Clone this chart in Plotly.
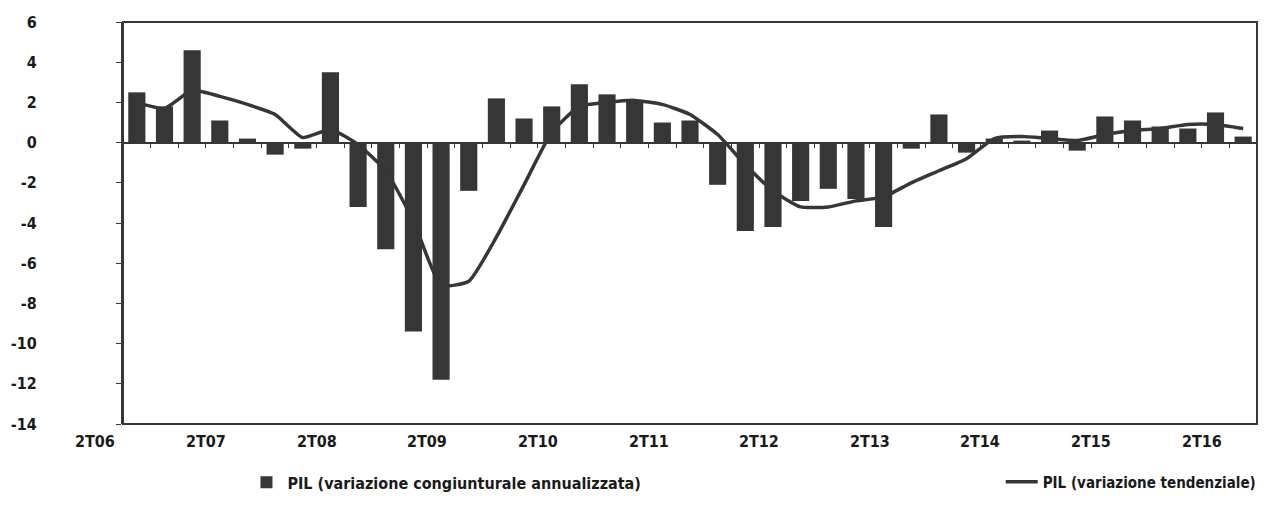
import plotly.graph_objects as go

# quarters 3T06 .. 3T16
quarters = [f"{q}T{y:02d}" for y in range(6, 17) for q in range(1, 5)][2:43]

pil_congiunturale = [2.5, 1.8, 4.6, 1.1, 0.2, -0.6, -0.3, 3.5, -3.2, -5.3,
                     -9.4, -11.8, -2.4, 2.2, 1.2, 1.8, 2.9, 2.4, 2.1, 1.0,
                     1.1, -2.1, -4.4, -4.2, -2.9, -2.3, -2.8, -4.2, -0.3, 1.4,
                     -0.5, 0.2, 0.1, 0.6, -0.4, 1.3, 1.1, 0.8, 0.7, 1.5, 0.3]

pil_tendenziale = [2.0, 1.7, 2.6, 2.3, 1.9, 1.4, 0.25, 0.65, -0.1, -1.4,
                   -3.9, -7.1, -6.9, -4.7, -2.1, 0.5, 1.8, 2.0, 2.1, 1.9,
                   1.4, 0.4, -1.1, -2.4, -3.2, -3.2, -2.9, -2.7, -2.0, -1.4,
                   -0.8, 0.2, 0.3, 0.2, 0.1, 0.4, 0.6, 0.7, 0.9, 0.9, 0.7]

tick_labels = ['2T06', '2T07', '2T08', '2T09', '2T10', '2T11',
               '2T12', '2T13', '2T14', '2T15', '2T16']

y_ticks = [-14, -12, -10, -8, -6, -4, -2, 0, 2, 4, 6]

DARK = '#363636'
TXT = '#1a1a1a'
FONT = 'DejaVu Sans Condensed, Liberation Sans Narrow, Liberation Sans, Arial'

n = len(quarters)
x = list(range(n))

fig = go.Figure()

fig.add_trace(
    go.Bar(
        x=x,
        y=pil_congiunturale,
        name='PIL (variazione congiunturale annualizzata)',
        marker=dict(color=DARK, line=dict(width=0)),
        customdata=quarters,
        hovertemplate='%{customdata}: %{y:.1f}<extra></extra>',
        legend='legend'
    )
)

fig.add_trace(
    go.Scatter(
        x=x,
        y=pil_tendenziale,
        mode='lines',
        name='PIL (variazione tendenziale)',
        line=dict(color=DARK, width=3.5, shape='spline', smoothing=0.5),
        customdata=quarters,
        hovertemplate='%{customdata}: %{y:.1f}<extra></extra>',
        legend='legend2'
    )
)

# x labels sit on the boundary just before each 2nd-quarter bar
# (2T06 falls left of the first bar, so place them in paper units)
for i, lab in enumerate(tick_labels):
    pos = 4 * i - 1.5
    fig.add_annotation(
        x=(pos + 0.5) / n,
        y=0,
        xref='paper',
        yref='paper',
        xanchor='center',
        yanchor='top',
        yshift=-6,
        text=lab,
        showarrow=False,
        font=dict(family=FONT, size=16, color=TXT, weight='bold')
    )

# plot frame
fig.add_shape(
    type='rect',
    xref='paper', yref='paper',
    x0=0, x1=1, y0=0, y1=1,
    line=dict(color=DARK, width=2)
)

legend_style = dict(
    orientation='h',
    yanchor='top',
    y=-0.103,
    xanchor='left',
    font=dict(family=FONT, size=15, color=TXT, weight='bold'),
    itemwidth=32,
    bgcolor='rgba(0,0,0,0)',
)

fig.update_layout(
    width=1259,
    height=501,
    margin=dict(l=115, r=5, t=14, b=85),
    paper_bgcolor='white',
    plot_bgcolor='white',
    font=dict(family=FONT, size=16, color=TXT, weight='bold'),
    bargap=0.38,
    showlegend=True,
    legend=dict(legend_style, x=0.108, font=dict(size=16)),
    legend2=dict(legend_style, x=0.774),
    xaxis=dict(
        range=[-0.5, n - 0.5],
        anchor='free',
        position=0.7,
        showline=True,
        linecolor=DARK,
        linewidth=2,
        ticks='outside',
        ticklen=4,
        tickcolor=DARK,
        tickvals=[i - 0.5 for i in range(1, n)],
        showticklabels=False,
        showgrid=False,
        zeroline=False,
        automargin=False,
    ),
    yaxis=dict(
        range=[-14, 6],
        tickvals=y_ticks,
        ticktext=[str(v) for v in y_ticks],
        showline=True,
        linecolor=DARK,
        linewidth=2,
        ticks='outside',
        ticklen=5,
        tickcolor=DARK,
        ticklabelstandoff=76,
        automargin=False,
        showgrid=False,
        zeroline=False,
        tickfont=dict(family=FONT, size=16, color=TXT, weight='bold'),
    ),
)

fig.write_html('out.html')
